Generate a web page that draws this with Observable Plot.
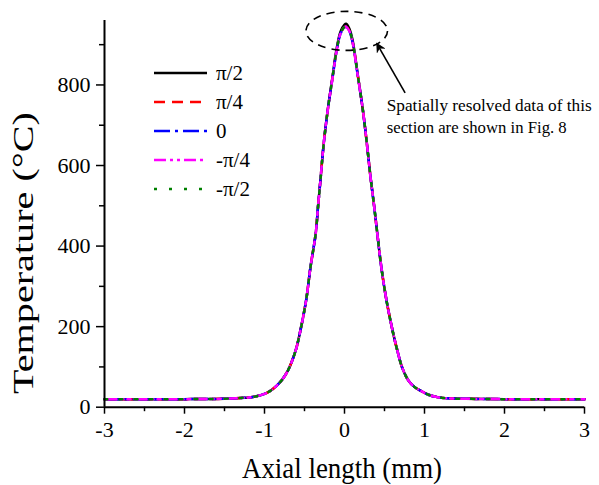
<!DOCTYPE html>
<html><head><meta charset="utf-8">
<script src="https://cdn.jsdelivr.net/npm/d3@7"></script>
<script src="https://cdn.jsdelivr.net/npm/@observablehq/plot@0.6"></script>
<style>
body{margin:0;background:#fff;}
#chart{width:599px;height:485px;}
</style></head><body><div id="chart"></div>
<script>
// ---- data ----
const axialMM = [-3, -2.5, -2, -1.5, -1.3, -1.2, -1.1, -1.0, -0.925, -0.85, -0.78, -0.7, -0.61, -0.56, -0.48, -0.425, -0.36, -0.33, -0.30, -0.26, -0.21, -0.15, -0.1, -0.05, 0, 0.02, 0.06, 0.1, 0.17, 0.23, 0.28, 0.325, 0.37, 0.41, 0.46, 0.525, 0.61, 0.66, 0.72, 0.8, 0.87, 0.95, 1.05, 1.16, 1.3, 1.5, 2, 2.5, 3];
const tempPiOver2 =      [20, 20, 20, 21, 23, 24, 27, 33, 41, 53, 68, 94, 141, 182, 265, 348, 431, 500, 565, 654, 737, 820, 888, 932, 950, 952, 940, 912, 820, 737, 654, 571, 500, 431, 348, 265, 182, 141, 99, 66, 51, 41, 31, 25, 22, 21, 20, 20, 20];
const tempPiOver4 =      [20, 20, 20, 21, 23, 24, 27, 33, 41, 53, 68, 94, 141, 182, 265, 348, 431, 500, 565, 654, 737, 818, 884, 928, 944, 945, 935, 908, 818, 737, 654, 571, 500, 431, 348, 265, 182, 141, 99, 66, 51, 41, 31, 25, 22, 21, 20, 20, 20];
const tempZero =         [20, 20, 20, 21, 23, 24, 27, 33, 41, 53, 68, 94, 141, 182, 265, 348, 431, 500, 565, 654, 737, 817, 883, 927, 943, 944, 934, 907, 817, 737, 654, 571, 500, 431, 348, 265, 182, 141, 99, 66, 51, 41, 31, 25, 22, 21, 20, 20, 20];
const tempMinusPiOver4 = [20, 20, 20, 21, 23, 24, 27, 33, 41, 53, 68, 94, 141, 182, 265, 348, 431, 500, 565, 654, 737, 817, 883, 927, 943, 944, 934, 907, 817, 737, 654, 571, 500, 431, 348, 265, 182, 141, 99, 66, 51, 41, 31, 25, 22, 21, 20, 20, 20];
const tempMinusPiOver2 = [20, 20, 20, 21, 23, 24, 27, 33, 41, 53, 68, 94, 141, 182, 265, 348, 431, 500, 565, 654, 737, 818, 884, 928, 944, 945, 935, 908, 818, 737, 654, 571, 500, 431, 348, 265, 182, 141, 99, 66, 51, 41, 31, 25, 22, 21, 20, 20, 20];

const seriesNames  = ["π/2", "π/4", "0", "-π/4", "-π/2"];
const seriesValues = [tempPiOver2, tempPiOver4, tempZero, tempMinusPiOver4, tempMinusPiOver2];
const seriesColors = ["#000000", "#ff0000", "#0000ff", "#ff00ff", "#008000"];
const seriesDash   = [null, "11,7", "16,5,3,5", "12,4,3,4,3,4", "3,12"];

const xTicks = [-3, -2, -1, 0, 1, 2, 3];
const xMinorTicks = [-2.5, -1.5, -0.5, 0.5, 1.5, 2.5];
const yTicks = [0, 200, 400, 600, 800];
const yMinorTicks = [100, 300, 500, 700, 900];

const xLabel = "Axial length (mm)";
const yLabel = "Temperature (°C)";
const noteLines = ["Spatially resolved data of this", "section are shown in Fig. 8"];
// annotation geometry in data units
const noteEllipse = {x: 0.034, y: 933, rx: 0.51, ry: 48.5};
const noteArrow = {x1: 0.764, y1: 779, x2: 0.409, y2: 902};
const noteText = {x: 0.534, y: 733};

// ---- build table ----
const rows = [];
seriesNames.forEach((name, i) => {
  axialMM.forEach((x, j) => rows.push({series: name, idx: i, x, t: seriesValues[i][j]}));
});

const FONT = "'Liberation Serif', 'Times New Roman', serif";

const lineMarks = seriesNames.map((name, i) =>
  Plot.line(rows.filter(r => r.idx === i), {
    x: "x", y: "t", stroke: seriesColors[i], strokeWidth: 2.5,
    strokeDasharray: seriesDash[i] || undefined, curve: "catmull-rom"
  })
);

const plot = Plot.plot({
  width: 599, height: 485,
  marginLeft: 104, marginRight: 15, marginTop: 20, marginBottom: 78.3,
  style: {fontFamily: FONT, fontSize: "22px", color: "black", background: "white"},
  x: {domain: [-3, 3]},
  y: {domain: [0, 960]},
  marks: [
    ...lineMarks,
    Plot.ruleY([0], {stroke: "black", strokeWidth: 2}),
    Plot.ruleX([-3], {stroke: "black", strokeWidth: 2}),
    Plot.axisX(xTicks, {tickSize: 7, tickPadding: 7, strokeWidth: 1.5, fontSize: 22, fontFamily: FONT, label: null, tickFormat: d => String(d)}),
    Plot.axisX(xMinorTicks, {tickSize: 4.5, strokeWidth: 1.5, text: null, label: null}),
    Plot.axisY(yTicks, {tickSize: 8, tickPadding: 6, strokeWidth: 1.5, fontSize: 22, fontFamily: FONT, label: null, tickFormat: d => String(d)}),
    Plot.axisY(yMinorTicks, {tickSize: 5, strokeWidth: 1.5, text: null, label: null})
  ]
});

document.getElementById("chart").appendChild(plot);

const xs = plot.scale("x"), ys = plot.scale("y");
const X = d3.scaleLinear(xs.domain, xs.range);
const Y = d3.scaleLinear(ys.domain, ys.range);
const svg = d3.select(plot);

// axis titles
svg.append("text").attr("x", 342).attr("y", 478)
  .attr("text-anchor", "middle").attr("font-family", FONT).attr("font-size", 29)
  .attr("textLength", 200).attr("lengthAdjust", "spacingAndGlyphs")
  .attr("fill", "black").text(xLabel);
svg.append("text").attr("transform", "translate(33,253) rotate(-90)")
  .attr("text-anchor", "middle").attr("font-family", FONT).attr("font-size", 29)
  .attr("textLength", 282).attr("lengthAdjust", "spacingAndGlyphs")
  .attr("fill", "black").text(yLabel);

// legend
const lg = svg.append("g").attr("text-anchor", "start");
seriesNames.forEach((name, i) => {
  const yy = 73 + i * 29;
  lg.append("line").attr("x1", 154).attr("x2", 207).attr("y1", yy).attr("y2", yy)
    .attr("stroke", seriesColors[i]).attr("stroke-width", 2.5)
    .attr("stroke-dasharray", seriesDash[i]);
  lg.append("text").attr("x", 216).attr("y", yy).attr("dy", "0.35em")
    .attr("text-anchor", "start")
    .attr("font-family", FONT).attr("font-size", 21).attr("fill", "black").text(name);
});

// annotation
svg.append("ellipse")
  .attr("cx", X(noteEllipse.x)).attr("cy", Y(noteEllipse.y))
  .attr("rx", Math.abs(X(noteEllipse.x + noteEllipse.rx) - X(noteEllipse.x)))
  .attr("ry", Math.abs(Y(noteEllipse.y + noteEllipse.ry) - Y(noteEllipse.y)))
  .attr("fill", "none").attr("stroke", "black").attr("stroke-width", 1.6).attr("stroke-dasharray", "8,6");
const defs = svg.append("defs");
defs.append("marker").attr("id", "ah").attr("viewBox", "0 0 10 10").attr("refX", 9).attr("refY", 5)
  .attr("markerWidth", 10).attr("markerHeight", 10).attr("markerUnits", "userSpaceOnUse").attr("orient", "auto")
  .append("path").attr("d", "M0,0 L10,5 L0,10 L3,5 Z").attr("fill", "black");
svg.append("line")
  .attr("x1", X(noteArrow.x1)).attr("y1", Y(noteArrow.y1))
  .attr("x2", X(noteArrow.x2)).attr("y2", Y(noteArrow.y2))
  .attr("stroke", "black").attr("stroke-width", 1.6).attr("marker-end", "url(#ah)");
noteLines.forEach((line, i) => {
  svg.append("text").attr("x", X(noteText.x)).attr("y", Y(noteText.y) + i * 22)
    .attr("text-anchor", "start")
    .attr("font-family", FONT).attr("font-size", 17).attr("fill", "black")
    .attr("textLength", i === 0 ? 205 : 180).attr("lengthAdjust", "spacingAndGlyphs")
    .text(line);
});
</script></body></html>
